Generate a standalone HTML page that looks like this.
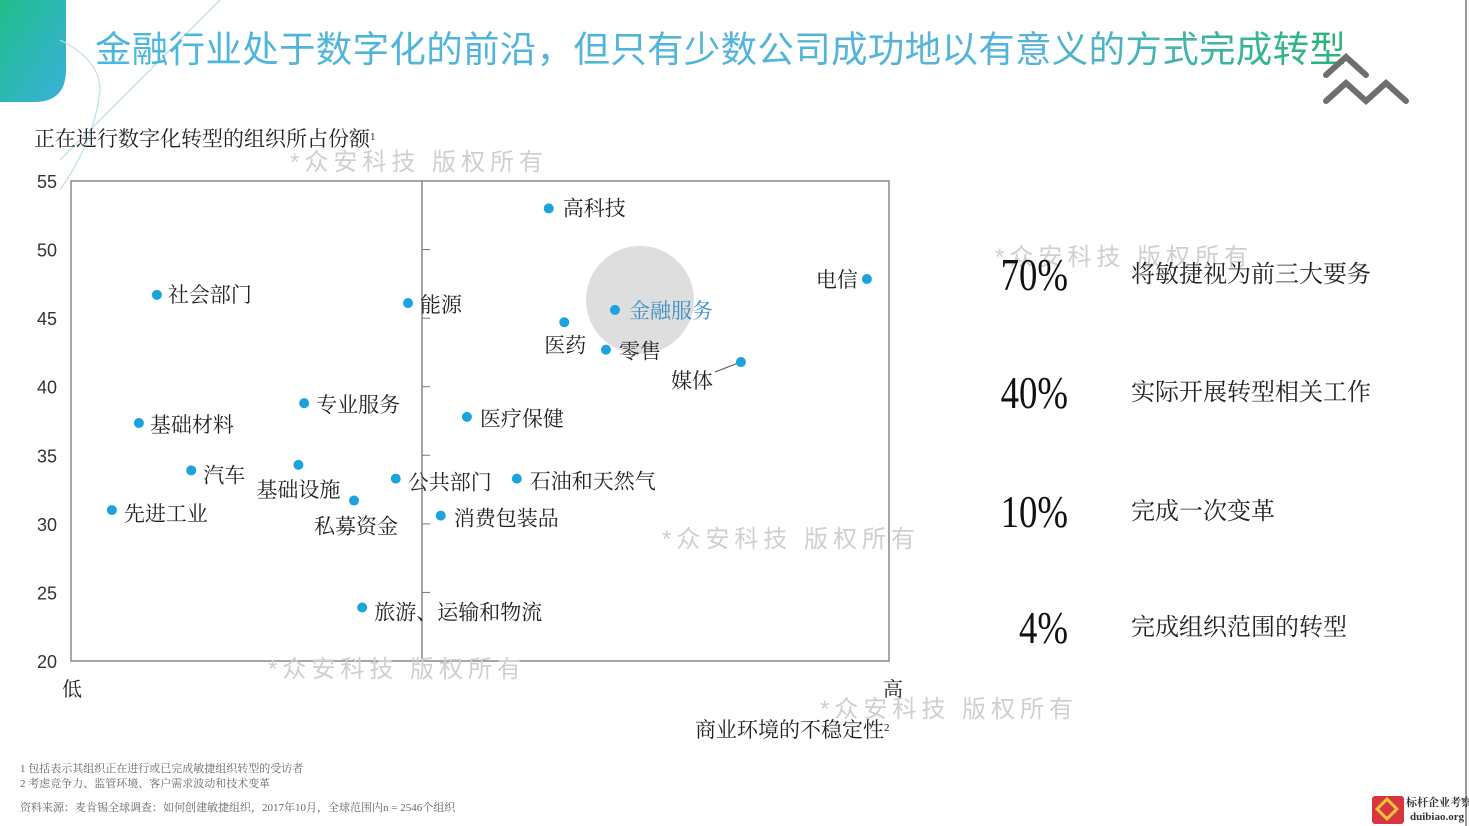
<!DOCTYPE html>
<html><head><meta charset="utf-8"><style>
html,body{margin:0;padding:0;background:#fff;}
svg{display:block;font-family:"Liberation Sans","Noto Sans CJK SC",sans-serif;}
.cj{font-family:"Liberation Serif","Noto Serif CJK SC",serif;}
</style></head><body>
<svg id="s" width="1469" height="826" viewBox="0 0 1469 826">
<defs>
<linearGradient id="tg" x1="0" x2="1"><stop offset="0" stop-color="#4cb6dc"/><stop offset="0.75" stop-color="#56b4d8"/><stop offset="1" stop-color="#2cb37a"/></linearGradient>
<linearGradient id="cg" x1="0" y1="0" x2="1" y2="1"><stop offset="0" stop-color="#1fbf8a"/><stop offset="1" stop-color="#3ab0dc"/></linearGradient>
</defs>
<path d="M0 0 H66 V70 Q66 102 34 102 H0 Z" fill="url(#cg)"/>
<path d="M60 40 Q100 60 100 90 Q95 140 60 190 M220 0 L60 160" stroke="#b9dfe6" stroke-width="1.2" fill="none"/>
<text x="95" y="62" font-size="36.5" letter-spacing="0.3" fill="url(#tg)">金融行业处于数字化的前沿，但只有少数公司成功地以有意义的方式完成转型</text>
<g stroke="#6e6e6e" stroke-width="6" fill="none" stroke-linecap="round"><path d="M1326 75 L1346 57 L1366 75"/><path d="M1326 101 L1346 83 L1366 101 L1386 83 L1406 101"/></g>
<line x1="1466" y1="0" x2="1466" y2="826" stroke="#999" stroke-width="2"/>
<text class="cj" x="34" y="146" font-size="21" fill="#222">正在进行数字化转型的组织所占份额<tspan font-size="11" dy="-6">1</tspan></text>
<g id="chart"></g>
<g font-size="24" fill="#cfcfcf" letter-spacing="5">
<text x="290" y="170">*众安科技 版权所有</text><text x="995" y="265">*众安科技 版权所有</text>
<text x="662" y="547">*众安科技 版权所有</text><text x="268" y="677">*众安科技 版权所有</text>
<text x="820" y="717">*众安科技 版权所有</text></g>
<g id="stats"></g>
<g font-size="11" fill="#666" class="cj">
<text x="20" y="772">1 包括表示其组织正在进行或已完成敏捷组织转型的受访者</text>
<text x="20" y="787">2 考虑竞争力、监管环境、客户需求波动和技术变革</text>
<text x="20" y="811">资料来源：麦肯锡全球调查：如何创建敏捷组织，2017年10月，全球范围内n = 2546个组织</text></g>
<g>
<rect x="1372" y="796" width="32" height="28" fill="#d8373f" rx="3"/>
<rect x="1380" y="802" width="14" height="14" fill="none" stroke="#f4c542" stroke-width="3" transform="rotate(45 1387 809)"/>
<text x="1406" y="806" font-size="11" font-weight="bold" fill="#333" font-family="Noto Serif CJK SC,serif">标杆企业考察</text>
<text x="1410" y="820" font-size="11" font-weight="bold" fill="#333" font-family="Liberation Serif,serif">duibiao.org</text></g>
</svg>
<script>
const categories=["高科技","电信","社会部门","能源","金融服务","医药","零售","媒体","专业服务","基础材料","医疗保健","汽车","基础设施","公共部门","石油和天然气","私募资金","先进工业","消费包装品","旅游、运输和物流"];
const instability=[58.4,97.3,10.5,41.2,66.5,60.3,65.4,81.9,28.5,8.3,48.4,14.7,27.8,39.7,54.5,34.6,5.0,45.2,35.6];
const share=[53.0,47.85,46.7,46.1,45.6,44.7,42.7,41.8,38.8,37.35,37.8,33.9,34.3,33.3,33.3,31.7,31.0,30.6,23.9];
const yTicks=[20,25,30,35,40,45,50,55];
const statValues=["70%","40%","10%","4%"];
const statLabels=["将敏捷视为前三大要务","实际开展转型相关工作","完成一次变革","完成组织范围的转型"];
const NS="http://www.w3.org/2000/svg";
const X0=71,X1=889,Y0=661,Y1=181;
const xs=v=>X0+(v/100)*(X1-X0);
const ys=v=>Y0-(v-20)/(55-20)*(Y0-Y1);
function mk(t,a,p){const e=document.createElementNS(NS,t);for(const k in a)e.setAttribute(k,a[k]);p.appendChild(e);return e;}
const g=document.getElementById('chart');
const frame=mk('rect',{x:X0,y:Y1,width:X1-X0,height:Y0-Y1,fill:'none',stroke:'#777','stroke-width':1.3},g);


const mid=mk('line',{x1:422,y1:Y1,x2:422,y2:Y0,stroke:'#777','stroke-width':1.3},g);


const hl=mk('circle',{cx:xs(instability[4])+25,cy:ys(share[4])-10,r:54,fill:'#dedede'},g);


yTicks.forEach(v=>{
 const t=mk('text',{x:57,y:ys(v)+7,'font-size':18,'text-anchor':'end',fill:'#333'},g);t.textContent=v;
 
 
 if(v>20&&v<55){const m=mk('line',{x1:422,y1:ys(v),x2:430,y2:ys(v),stroke:'#777'},g);
 
 }
});
const lo=mk('text',{x:62,y:696,'font-size':20,fill:'#222',class:'cj'},g);lo.textContent='低';


const hi=mk('text',{x:883,y:696,'font-size':20,fill:'#222',class:'cj'},g);hi.textContent='高';


const xt=mk('text',{x:695,y:737,'font-size':21,fill:'#222',class:'cj'},g);xt.innerHTML='商业环境的不稳定性<tspan font-size="11" dy="-6">2</tspan>';


// label placement: [dx, dy, anchor]
const place=[[14,7,'start'],[-9,8,'end'],[11,7,'start'],[12,9,'start'],[14,8,'start'],[1,30,'middle'],[13,9,'start'],[-28,26,'end'],[12,9,'start'],[11,9,'start'],[13,9,'start'],[12,12,'start'],[0,32,'middle'],[12,11,'start'],[13,10,'start'],[2,33,'middle'],[12,11,'start'],[13,10,'start'],[12,12,'start']];
categories.forEach((c,i)=>{
 const cx=xs(instability[i]),cy=ys(share[i]);
 if(i===7){const ln=mk('line',{x1:cx,y1:cy,x2:cx-26,y2:cy+10,stroke:'#555'},g);
 
 }
 const d=mk('circle',{cx:cx,cy:cy,r:5,fill:'#1aa3dc'},g);
 
 
 const p=place[i];
 const t=mk('text',{x:cx+p[0],y:cy+p[1],'font-size':21,'text-anchor':p[2],fill:i===4?'#3a8fc4':'#222',class:'cj'},g);
 t.textContent=c;
 
 
});
const s=document.getElementById('stats');
const sy=[290,408,527,643];
statValues.forEach((v,i)=>{
 const n=mk('text',{x:0,y:0,'font-size':46,'text-anchor':'end',fill:'#111','font-family':'Liberation Serif,serif',transform:'translate(1068,'+sy[i]+') scale(0.8,1)'},s);
 n.textContent=v;
 
 
 const l=mk('text',{x:1131,y:sy[i]-8,'font-size':24,fill:'#222',class:'cj'},s);
 l.textContent=statLabels[i];
 
 
});
</script>
</body></html>
